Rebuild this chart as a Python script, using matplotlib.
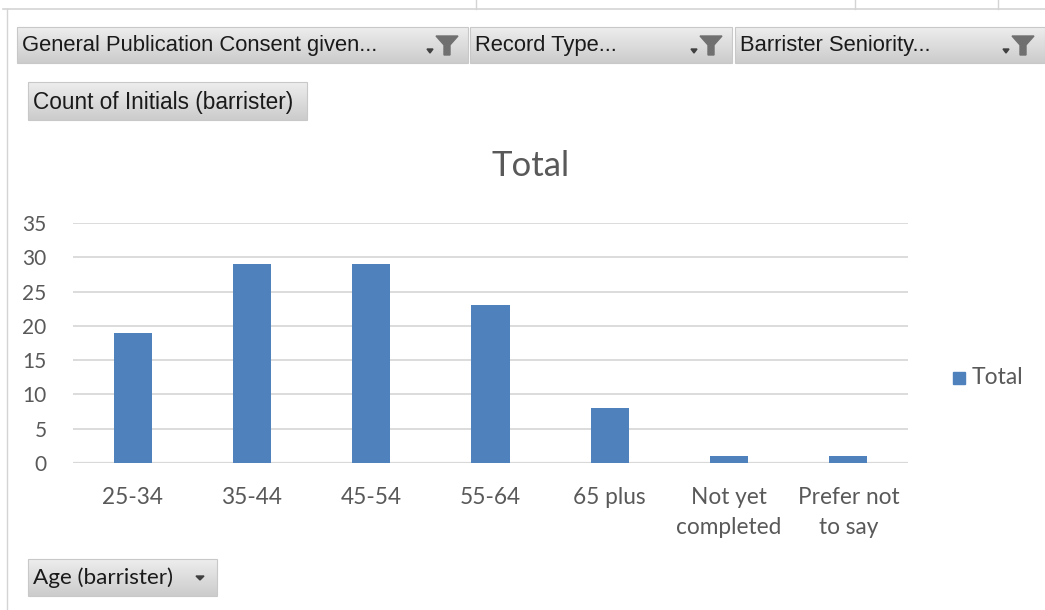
import matplotlib
matplotlib.use('Agg')
import matplotlib.pyplot as plt
import numpy as np
from matplotlib.patches import Rectangle, Polygon

# data
age_groups = ['25-34', '35-44', '45-54', '55-64', '65 plus', 'Not yet\ncompleted', 'Prefer not\nto say']
counts = [19, 29, 29, 23, 8, 1, 1]
y_ticks = [0, 5, 10, 15, 20, 25, 30, 35]
series_name = 'Total'
filter_labels = ['General Publication Consent given...', 'Record Type...', 'Barrister Seniority...']
value_button = 'Count of Initials (barrister)'
axis_button = 'Age (barrister)'

BAR_COLOR = '#4F81BD'
TEXT_COLOR = '#595959'
GRID_COLOR = '#D9D9D9'
chart_font = ['Lato', 'DejaVu Sans']
ui_font = ['Liberation Sans Narrow', 'Liberation Sans', 'DejaVu Sans']

W, H = 1045, 610
fig = plt.figure(figsize=(W / 100, H / 100), dpi=100)

# overlay in pixel coordinates for the excel decorations
deco = fig.add_axes([0, 0, 1, 1])
deco.set_xlim(0, W)
deco.set_ylim(H, 0)
deco.axis('off')

# sheet gridlines behind the chart
deco.plot([3, W], [9, 9], color='#D4D4D4', lw=1.2)
for xv in [476, 855, 998]:
    deco.plot([xv, xv], [0, 9], color='#D4D4D4', lw=1)
deco.plot([7, 7], [9, H], color='#D4D4D4', lw=1)

grad = np.linspace(0.93, 0.80, 50).reshape(-1, 1)


def gray_button(x0, y0, x1, y1):
    deco.imshow(np.dstack([grad, grad, grad]), extent=(x0, x1, y1, y0), aspect='auto',
                interpolation='bilinear', zorder=2)
    deco.add_patch(Rectangle((x0, y0), x1 - x0, y1 - y0, fill=False, ec='#C8C8C8', lw=0.8, zorder=3))


def funnel(xc, yc):
    deco.add_patch(Polygon([[xc - 11, yc - 9], [xc + 11, yc - 9], [xc + 3, yc],
                            [xc + 3, yc + 10], [xc - 3, yc + 10], [xc - 3, yc]],
                           closed=True, color='#707070', zorder=4))
    deco.add_patch(Polygon([[xc - 20, yc + 4], [xc - 14, yc + 4], [xc - 17, yc + 8]],
                           closed=True, color='#404040', zorder=4))


# filter buttons across the top
boxes = [(17, 468), (470, 732), (735, 1045)]
for (x0, x1), lab in zip(boxes, filter_labels):
    gray_button(x0, 27, x1, 63)
    deco.text(x0 + 5, 46, lab, fontsize=15.8, family=ui_font, color='#1A1A1A',
              va='center', ha='left', zorder=5)
    funnel(x1 - 21 if x1 < W else 1023, 45)

gray_button(28, 82, 307, 120)
deco.text(33, 102, value_button, fontsize=16.3, family=ui_font, color='#1A1A1A',
          va='center', ha='left', zorder=5)

gray_button(28, 559, 217, 596)
deco.text(33, 578, axis_button, fontsize=16.2, family=chart_font, color='#1A1A1A',
          va='center', ha='left', zorder=5)
deco.add_patch(Polygon([[196, 576], [204, 576], [200, 580]], closed=True, color='#404040', zorder=5))

# chart title and legend
deco.text(531, 166, series_name, fontsize=25, family=chart_font, color=TEXT_COLOR,
          ha='center', va='center')
deco.add_patch(Rectangle((953, 372), 12, 12, color=BAR_COLOR))
deco.text(972, 378, series_name, fontsize=16.5, family=chart_font, color=TEXT_COLOR,
          ha='left', va='center')

# plot area
ax = fig.add_axes([73 / W, 1 - 463 / H, (908 - 73) / W, (463 - 223) / H])
x = np.arange(len(age_groups))
ax.bar(x, counts, width=0.32, color=BAR_COLOR, zorder=3)
ax.set_xlim(-0.5, len(age_groups) - 0.5)
ax.set_ylim(0, 35)
ax.set_yticks(y_ticks)
ax.set_xticks(x)
ax.set_xticklabels(age_groups, family=chart_font, fontsize=16.3, color=TEXT_COLOR, linespacing=1.55)
ax.set_yticklabels([str(v) for v in y_ticks], family=chart_font, fontsize=15, color=TEXT_COLOR)
ax.tick_params(length=0)
ax.tick_params(axis='x', pad=17)
ax.tick_params(axis='y', pad=19)
ax.grid(axis='y', color=GRID_COLOR, lw=1.3, zorder=0)
for s in ax.spines.values():
    s.set_visible(False)
ax.axhline(0, color=GRID_COLOR, lw=1.6, zorder=2)
ax.patch.set_alpha(0)

plt.savefig('out.png', dpi=100)
